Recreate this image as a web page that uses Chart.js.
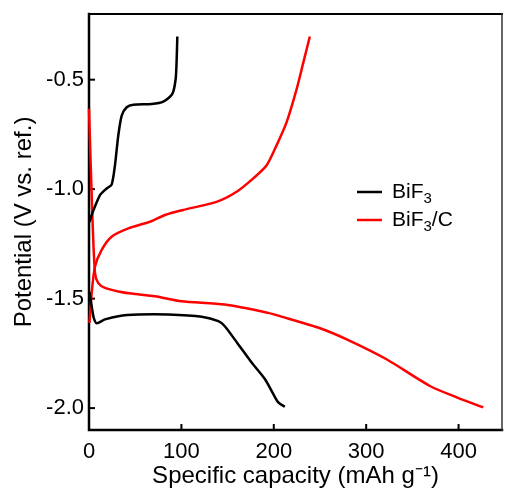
<!DOCTYPE html>
<html>
<head>
<meta charset="utf-8">
<script src="https://cdn.jsdelivr.net/npm/chart.js@4.4.1/dist/chart.umd.min.js"></script>
<style>
  body { margin: 0; background: #fff; }
  canvas { display: block; }
</style>
</head>
<body>
<canvas id="chart" width="505" height="501"></canvas>
<script>
// ticks
const xTicks = [0, 100, 200, 300, 400];
const yTicks = [-2.0, -1.5, -1.0, -0.5];

// BiF3 charge (capacity, potential)
const bif3ChargeX = [0.5, 3.6, 11.9, 19.1, 24.5, 28.1, 31.7, 35.4, 40.8, 48, 67.8, 80.4, 90.2, 93.8, 94.9, 95.6];
const bif3ChargeY = [-1.15, -1.11, -1.027, -0.997, -0.979, -0.891, -0.755, -0.664, -0.626, -0.614, -0.611, -0.600, -0.565, -0.497, -0.406, -0.303];

// BiF3 discharge
const bif3DischargeX = [0.5, 3.5, 5.3, 8.3, 17.3, 31.7, 53.4, 85.8, 122, 140, 147, 161.6, 176, 190.5, 199.5, 204.9, 212];
const bif3DischargeY = [-1.47, -1.55, -1.59, -1.612, -1.595, -1.580, -1.573, -1.573, -1.583, -1.603, -1.626, -1.709, -1.792, -1.868, -1.936, -1.974, -1.994];

// BiF3/C charge
const bif3cChargeX = [0.5, 2.9, 6.5, 13.7, 24.5, 42.6, 66, 82.3, 102, 138, 159.8, 177.8, 192.3, 203, 213.9, 224.8, 232, 239];
const bif3cChargeY = [-1.611, -1.474, -1.353, -1.277, -1.217, -1.179, -1.149, -1.118, -1.095, -1.058, -1.012, -0.951, -0.891, -0.8, -0.694, -0.542, -0.421, -0.303];

// BiF3/C discharge
const bif3cDischargeX = [0, 3.6, 6.5, 10, 17.3, 31.7, 46, 71.4, 100, 147, 194, 206.7, 247.8, 278.9, 322, 369, 398, 426.7];
const bif3cDischargeY = [-0.633, -1.118, -1.383, -1.429, -1.451, -1.467, -1.477, -1.489, -1.512, -1.527, -1.565, -1.58, -1.632, -1.686, -1.777, -1.899, -1.951, -1.997];

const seriesLabels = ['BiF₃', 'BiF₃/C'];
const seriesColors = ['#000000', '#ff0000'];

function pts(xs, ys) {
  return xs.map((v, i) => ({ x: v, y: ys[i] }));
}

function curve(label, color, xs, ys) {
  return {
    label: label,
    data: pts(xs, ys),
    borderColor: color,
    backgroundColor: color,
    borderWidth: 2.5,
    pointRadius: 0,
    tension: 0.25,
    fill: false,
    clip: 6
  };
}

const FONT = "'Liberation Sans', Arial, sans-serif";

// frame, inward ticks and legend
const framePlugin = {
  id: 'frame',
  beforeDatasetsDraw(chart) {
    const { ctx, chartArea: a, scales: { x, y } } = chart;
    ctx.save();
    ctx.strokeStyle = '#000';
    ctx.lineCap = 'square';
    ctx.lineWidth = 2.5;
    ctx.beginPath();
    ctx.moveTo(a.left, a.top);
    ctx.lineTo(a.left, a.bottom);
    ctx.lineTo(a.right, a.bottom);
    ctx.stroke();
    ctx.lineWidth = 2;
    ctx.beginPath();
    ctx.moveTo(a.left, a.top);
    ctx.lineTo(a.right, a.top);
    ctx.stroke();
    ctx.strokeStyle = '#333';
    ctx.lineWidth = 1.5;
    ctx.beginPath();
    ctx.moveTo(a.right, a.top);
    ctx.lineTo(a.right, a.bottom);
    ctx.stroke();

    ctx.strokeStyle = '#000';
    ctx.lineWidth = 2;
    ctx.lineCap = 'butt';
    xTicks.forEach(v => {
      const px = x.getPixelForValue(v);
      ctx.beginPath();
      ctx.moveTo(px, a.bottom);
      ctx.lineTo(px, a.bottom - 6);
      ctx.stroke();
    });
    yTicks.forEach(v => {
      const py = y.getPixelForValue(v);
      ctx.beginPath();
      ctx.moveTo(a.left, py);
      ctx.lineTo(a.left + 6, py);
      ctx.stroke();
    });
    ctx.restore();
  },
  afterDraw(chart) {
    const ctx = chart.ctx;
    ctx.save();
    ctx.textBaseline = 'middle';
    ctx.fillStyle = '#000';
    seriesLabels.forEach((lab, i) => {
      const ly = 192 + i * 28;
      ctx.strokeStyle = seriesColors[i];
      ctx.lineWidth = 2.5;
      ctx.beginPath();
      ctx.moveTo(357, ly);
      ctx.lineTo(382, ly);
      ctx.stroke();
      // draw "BiF" + subscript 3 + tail
      const parts = lab.split('₃');
      let tx = 392;
      ctx.font = '21px ' + FONT;
      ctx.fillText(parts[0], tx, ly);
      tx += ctx.measureText(parts[0]).width;
      ctx.font = '15px ' + FONT;
      ctx.fillText('3', tx, ly + 7);
      tx += ctx.measureText('3').width;
      ctx.font = '21px ' + FONT;
      ctx.fillText(parts[1] || '', tx, ly);
    });
    ctx.restore();
  }
};

new Chart(document.getElementById('chart'), {
  type: 'line',
  data: {
    datasets: [
      curve(seriesLabels[0], seriesColors[0], bif3ChargeX, bif3ChargeY),
      curve(seriesLabels[0], seriesColors[0], bif3DischargeX, bif3DischargeY),
      curve(seriesLabels[1], seriesColors[1], bif3cChargeX, bif3cChargeY),
      curve(seriesLabels[1], seriesColors[1], bif3cDischargeX, bif3cDischargeY)
    ]
  },
  options: {
    responsive: false,
    devicePixelRatio: 1,
    animation: false,
    events: [],
    layout: { padding: { left: 0, right: 3, top: 14, bottom: 0 } },
    plugins: {
      legend: { display: false },
      tooltip: { enabled: false }
    },
    scales: {
      x: {
        type: 'linear',
        min: 0,
        max: 447,
        afterBuildTicks: axis => { axis.ticks = xTicks.map(v => ({ value: v })); },
        afterFit: s => { s.height = 501 - 430; s.paddingLeft = 0; s.paddingRight = 0; },
        grid: { display: false, drawTicks: false },
        border: { display: false },
        ticks: {
          padding: 9,
          color: '#000',
          font: { family: FONT, size: 22 },
          maxRotation: 0,
          callback: v => String(v)
        },
        title: {
          display: true,
          text: 'Specific capacity (mAh g⁻¹)',
          color: '#000',
          font: { family: FONT, size: 24 },
          padding: { top: 0, bottom: 10 }
        }
      },
      y: {
        type: 'linear',
        min: -2.1,
        max: -0.2,
        afterBuildTicks: axis => { axis.ticks = yTicks.map(v => ({ value: v })); },
        afterFit: s => { s.width = 89; s.paddingTop = 0; s.paddingBottom = 0; },
        grid: { display: false, drawTicks: false },
        border: { display: false },
        ticks: {
          padding: 5,
          color: '#000',
          font: { family: FONT, size: 22 },
          callback: v => Number(v).toFixed(1)
        },
        title: {
          display: true,
          text: 'Potential (V vs. ref.)',
          color: '#000',
          font: { family: FONT, size: 24 },
          padding: { top: 10, bottom: 0 }
        }
      }
    }
  },
  plugins: [framePlugin]
});
</script>
</body>
</html>
